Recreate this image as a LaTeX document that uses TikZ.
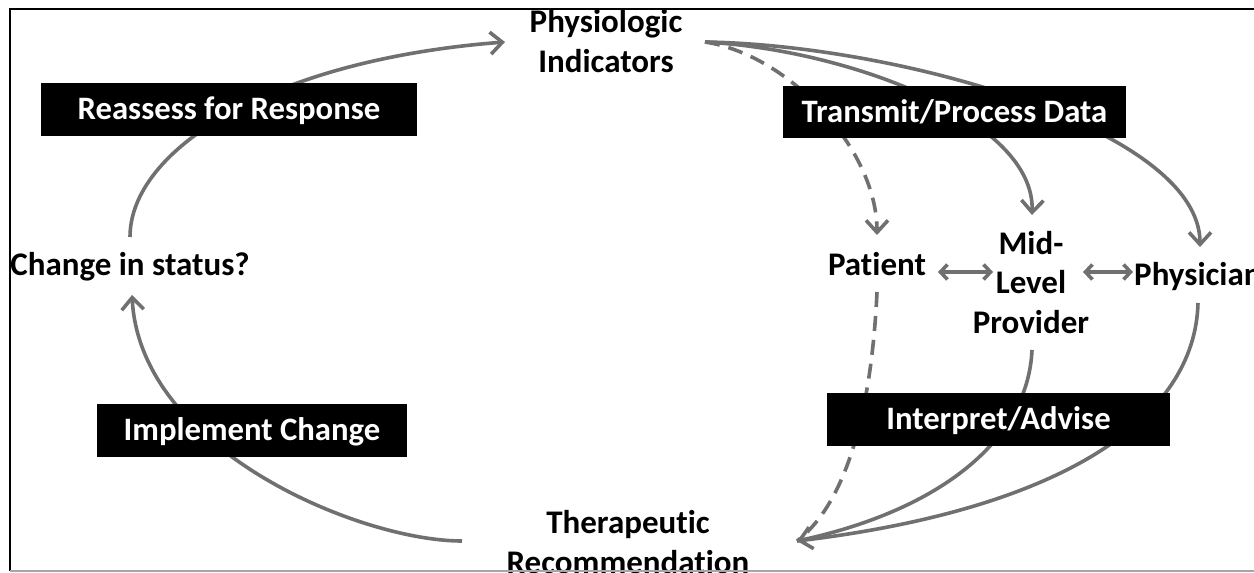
\documentclass[tikz,border=0pt]{standalone}
\usepackage{fontspec}
\setmainfont{Carlito}[Ligatures={NoCommon}]
\usetikzlibrary{arrows.meta}
\definecolor{flow}{RGB}{112,112,112}
\begin{document}
\begin{tikzpicture}[x=1pt,y=-1pt,
  flowline/.style={draw=flow, line width=3.6pt},
  flowdash/.style={flowline, dash pattern=on 15pt off 9pt},
  arrowend/.style={-{Straight Barb[length=12pt,width=22pt]}},
  twoway/.style={draw=flow, line width=3.6pt,
    {Straight Barb[length=7pt,width=15pt]}-{Straight Barb[length=7pt,width=15pt]}},
  termtext/.style={font=\fontsize{33}{39.5}\selectfont\bfseries, inner sep=0pt, align=center},
  stagebox/.style={fill=black, text=white, font=\fontsize{32.7}{39}\selectfont\bfseries,
    inner sep=0pt, text height=20.5pt, text depth=0pt},
]
\useasboundingbox (0,0) rectangle (1254,573);
\clip (0,0) rectangle (1254,573);

% terms of the cycle
\node[termtext, anchor=base] (pi) at (606,72) {Physiologic\\Indicators};
\node[termtext, anchor=base] (cs) at (130,275) {Change in status?};
\node[termtext, anchor=base] (pa) at (877,275) {Patient};
\node[termtext, anchor=base] (ml) at (1031,333) {Mid-\\Level\\Provider};
\node[termtext, anchor=base west] (py) at (1134,285) {Physician};
\node[termtext, anchor=base] (tr) at (628,573) {Therapeutic\\Recommendation};

% frame
\draw[black, line width=2pt] (1260,9) -- (10,9) -- (10,571);
\draw[gray!70, line width=1.5pt] (10,571) -- (1260,571);

% connector ends
\coordinate (pi-in) at (505,42);
\coordinate (pi-out) at (705,42);
\coordinate (cs-top) at (130,237);
\coordinate (cs-bot) at (132,295);
\coordinate (tr-left) at (462,541);
\coordinate (tr-right) at (797,541);
\coordinate (pa-top) at (877,235);
\coordinate (pa-bot) at (877,292);
\coordinate (ml-top) at (1032,215);
\coordinate (ml-bot) at (1032,350);
\coordinate (py-top) at (1200,247);
\coordinate (py-bot) at (1198,303);
\coordinate (pa-r) at (938,272);
\coordinate (ml-l) at (993,272);
\coordinate (ml-r) at (1083,272);
\coordinate (py-l) at (1133,272);

% left half of the loop
\draw[flowline, arrowend] (cs-top) .. controls (130,150) and (270,60) .. (pi-in);
\draw[flowline, arrowend] (tr-left) .. controls (360,541) and (140,450) .. (cs-bot);

% data fanning out
\draw[flowdash, arrowend] (pi-out) .. controls (790,55) and (877,150) .. (pa-top);
\draw[flowline, arrowend] (pi-out) .. controls (850,50) and (1035,120) .. (ml-top);
\draw[flowline, arrowend] (pi-out) .. controls (900,45) and (1200,130) .. (py-top);

% exchanges between the parties
\draw[twoway] (pa-r) -- (ml-l);
\draw[twoway] (ml-r) -- (py-l);

% advice converging on the recommendation
\draw[flowdash] (pa-bot) .. controls (872,400) and (850,500) .. (tr-right);
\draw[flowline] (py-bot) .. controls (1195,420) and (1060,510) .. (tr-right);
\draw[flowline, arrowend] (ml-bot) .. controls (1028,440) and (940,510) .. (tr-right);

% stage labels
\node[stagebox, minimum width=376pt, minimum height=53pt] (reassess) at (229,109.5) {Reassess for Response};
\node[stagebox, minimum width=343pt, minimum height=52pt] (transmit) at (954.5,112) {Transmit/Process Data};
\node[stagebox, minimum width=343pt, minimum height=53pt] (interpret) at (998.5,419.5) {Interpret/Advise};
\node[stagebox, minimum width=310pt, minimum height=53pt] (implement) at (252,430.5) {Implement Change};
\end{tikzpicture}
\end{document}
